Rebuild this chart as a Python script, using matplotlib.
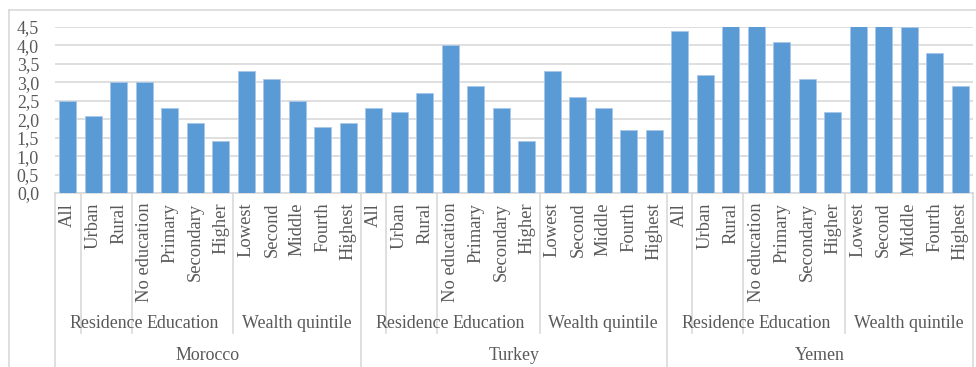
import matplotlib
matplotlib.use('Agg')
import matplotlib.pyplot as plt
import matplotlib.transforms as mtransforms
from matplotlib.lines import Line2D

countries = ['Morocco', 'Turkey', 'Yemen']
categories = ['All', 'Urban', 'Rural', 'No education', 'Primary', 'Secondary', 'Higher',
              'Lowest', 'Second', 'Middle', 'Fourth', 'Highest']
groups = [('', 0, 0), ('Residence', 1, 2), ('Education', 3, 6), ('Wealth quintile', 7, 11)]

morocco = [2.5, 2.1, 3.0, 3.0, 2.3, 1.9, 1.4, 3.3, 3.1, 2.5, 1.8, 1.9]
turkey = [2.3, 2.2, 2.7, 4.0, 2.9, 2.3, 1.4, 3.3, 2.6, 2.3, 1.7, 1.7]
# bars above 4.5 are cut off by the axis in the original
yemen = [4.4, 3.2, 4.6, 5.0, 4.1, 3.1, 2.2, 5.1, 4.8, 4.5, 3.8, 2.9]

W, H = 976, 367
plt.rcParams['font.family'] = ['Liberation Serif', 'DejaVu Serif']
plt.rcParams['font.size'] = 12.9
text_color = '#595959'
grid_color = '#d9d9d9'
bar_color = '#5b9bd5'

fig = plt.figure(figsize=(W / 100, H / 100), dpi=100)
ax = fig.add_axes([55 / W, (H - 193) / H, (973 - 55) / W, (193 - 27) / H])

values = morocco + turkey + yemen
labels = categories * len(countries)
xs = list(range(len(values)))
ax.bar(xs, values, width=0.66, color=bar_color, edgecolor='#a9c8ea', linewidth=0.6, zorder=3)

ax.set_xlim(-0.5, len(values) - 0.5)
ax.set_ylim(0, 4.5)
ticks = [i * 0.5 for i in range(10)]
ax.set_yticks(ticks)
ax.set_yticklabels([('%.1f' % t).replace('.', ',') for t in ticks])
ax.set_xticks(xs)
ax.set_xticklabels(labels, rotation=90, va='top', ha='center', fontsize=13.3)
ax.tick_params(axis='x', length=0, pad=7, colors=text_color)
ax.tick_params(axis='y', length=0, pad=11.5, colors=text_color)
ax.yaxis.grid(True, color=grid_color, linewidth=1.2, zorder=0)
for s in ['top', 'right', 'left']:
    ax.spines[s].set_visible(False)
ax.spines['bottom'].set_color(grid_color)
ax.spines['bottom'].set_linewidth(1.2)

trans = mtransforms.blended_transform_factory(ax.transData, fig.transFigure)
y_axis = (H - 193) / H
y_group = (H - 333) / H
n = len(categories)
for c, country in enumerate(countries):
    off = c * n
    for name, a, b in groups:
        if name:
            ax.text(off + (a + b) / 2, (H - 324) / H, name, transform=trans,
                    ha='center', va='center', color=text_color)
        if a > 0:
            ax.add_line(Line2D([off + a - 0.5] * 2, [y_axis, y_group], transform=trans,
                               color=grid_color, linewidth=1.2, clip_on=False))
    ax.add_line(Line2D([off - 0.5] * 2, [y_axis, 0], transform=trans,
                       color=grid_color, linewidth=1.2, clip_on=False))
    ax.text(off + (n - 1) / 2, (H - 356) / H, country, transform=trans,
            ha='center', va='center', color=text_color)
ax.add_line(Line2D([len(values) - 0.5] * 2, [y_axis, 0], transform=trans,
                   color=grid_color, linewidth=1.2, clip_on=False))

# outer chart border (cropped on the right and bottom)
fig.add_artist(Line2D([9 / W, 9 / W], [0, (H - 10) / H], color=grid_color, linewidth=1.2))
fig.add_artist(Line2D([9 / W, 1], [(H - 10) / H] * 2, color=grid_color, linewidth=1.2))

fig.savefig('out.png', dpi=100)
